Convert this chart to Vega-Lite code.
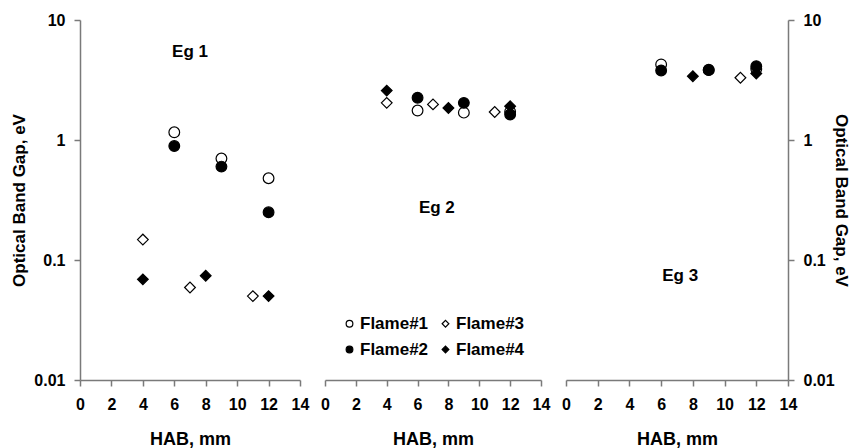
{
  "$schema": "https://vega.github.io/schema/vega-lite/v6.json",
  "background": "white",
  "padding": {"left": 10, "top": 12, "right": 0, "bottom": 0},
  "spacing": 25,
  "bounds": "flush",
  "datasets": {
    "points": [
      {"panel": 1, "hab": 6, "eg": 1.16, "flame": "Flame#1"},
      {"panel": 1, "hab": 9, "eg": 0.70, "flame": "Flame#1"},
      {"panel": 1, "hab": 12, "eg": 0.48, "flame": "Flame#1"},
      {"panel": 1, "hab": 6, "eg": 0.89, "flame": "Flame#2"},
      {"panel": 1, "hab": 9, "eg": 0.60, "flame": "Flame#2"},
      {"panel": 1, "hab": 12, "eg": 0.25, "flame": "Flame#2"},
      {"panel": 1, "hab": 4, "eg": 0.148, "flame": "Flame#3"},
      {"panel": 1, "hab": 7, "eg": 0.059, "flame": "Flame#3"},
      {"panel": 1, "hab": 11, "eg": 0.05, "flame": "Flame#3"},
      {"panel": 1, "hab": 4, "eg": 0.069, "flame": "Flame#4"},
      {"panel": 1, "hab": 8, "eg": 0.074, "flame": "Flame#4"},
      {"panel": 1, "hab": 12, "eg": 0.05, "flame": "Flame#4"},
      {"panel": 2, "hab": 6, "eg": 1.76, "flame": "Flame#1"},
      {"panel": 2, "hab": 9, "eg": 1.69, "flame": "Flame#1"},
      {"panel": 2, "hab": 12, "eg": 1.72, "flame": "Flame#1"},
      {"panel": 2, "hab": 6, "eg": 2.25, "flame": "Flame#2"},
      {"panel": 2, "hab": 9, "eg": 2.04, "flame": "Flame#2"},
      {"panel": 2, "hab": 12, "eg": 1.63, "flame": "Flame#2"},
      {"panel": 2, "hab": 4, "eg": 2.04, "flame": "Flame#3"},
      {"panel": 2, "hab": 7, "eg": 1.98, "flame": "Flame#3"},
      {"panel": 2, "hab": 11, "eg": 1.71, "flame": "Flame#3"},
      {"panel": 2, "hab": 4, "eg": 2.58, "flame": "Flame#4"},
      {"panel": 2, "hab": 8, "eg": 1.85, "flame": "Flame#4"},
      {"panel": 2, "hab": 12, "eg": 1.91, "flame": "Flame#4"},
      {"panel": 3, "hab": 6, "eg": 4.26, "flame": "Flame#1"},
      {"panel": 3, "hab": 9, "eg": 3.85, "flame": "Flame#1"},
      {"panel": 3, "hab": 12, "eg": 3.9, "flame": "Flame#1"},
      {"panel": 3, "hab": 6, "eg": 3.80, "flame": "Flame#2"},
      {"panel": 3, "hab": 9, "eg": 3.82, "flame": "Flame#2"},
      {"panel": 3, "hab": 12, "eg": 4.12, "flame": "Flame#2"},
      {"panel": 3, "hab": 11, "eg": 3.30, "flame": "Flame#3"},
      {"panel": 3, "hab": 8, "eg": 3.40, "flame": "Flame#4"},
      {"panel": 3, "hab": 12, "eg": 3.58, "flame": "Flame#4"}
    ],
    "labels": [
      {"panel": 1, "hab": 7, "eg": 5.4, "label": "Eg 1"},
      {"panel": 2, "hab": 7.25, "eg": 0.27, "label": "Eg 2"},
      {"panel": 3, "hab": 7.2, "eg": 0.074, "label": "Eg 3"}
    ]
  },
  "config": {
    "view": {"stroke": null},
    "font": "Liberation Sans",
    "axis": {
      "grid": false,
      "domainColor": "#7a7a7a",
      "domainWidth": 1.5,
      "tickColor": "#7a7a7a",
      "tickWidth": 1.5,
      "tickSize": 6,
      "labelFont": "Liberation Sans",
      "labelFontWeight": "bold",
      "labelFontSize": 16,
      "labelColor": "black",
      "labelFlush": false,
      "labelOverlap": false,
      "labelPadding": 9,
      "titleFont": "Liberation Sans",
      "titleFontWeight": "bold",
      "titleFontSize": 18,
      "titleColor": "black"
    },
    "legend": {
      "labelFont": "Liberation Sans",
      "labelFontWeight": "bold",
      "labelFontSize": 17,
      "labelColor": "black",
      "symbolSize": 45,
      "symbolStrokeWidth": 1.2,
      "columnPadding": 8,
      "rowPadding": 8,
      "labelOffset": 2
    }
  },
  "hconcat": [
    {
      "width": 220,
      "height": 360,
      "layer": [
        {
          "data": {"name": "points"},
          "transform": [{"filter": "datum.panel == 1"}],
          "mark": {"type": "point", "filled": true, "strokeWidth": 1.2, "opacity": 1, "size": 115},
          "encoding": {
            "x": {"field": "hab", "type": "quantitative", "scale": {"domain": [0, 14], "nice": false},
                  "axis": {"values": [0, 2, 4, 6, 8, 10, 12, 14], "tickCount": 8, "labelOverlap": false, "title": "HAB, mm", "titlePadding": 18, "labelPadding": 10}},
            "y": {"field": "eg", "type": "quantitative", "scale": {"type": "log", "domain": [0.01, 10], "nice": false},
                  "axis": {"orient": "left", "values": [0.01, 0.1, 1, 10], "tickCount": 4, "labelExpr": "datum.value + ''", "title": "Optical Band Gap, eV", "titleFontSize": 17, "titlePadding": 5, "labelPadding": 9}},
            "shape": {"field": "flame", "type": "nominal", "scale": {"domain": ["Flame#1", "Flame#2", "Flame#3", "Flame#4"], "range": ["circle", "circle", "diamond", "diamond"]},
                      "legend": {"title": null, "columns": 2, "orient": "none", "legendX": 261, "legendY": 295}},
            "fill": {"field": "flame", "type": "nominal", "scale": {"domain": ["Flame#1", "Flame#2", "Flame#3", "Flame#4"], "range": ["white", "black", "white", "black"]},
                     "legend": {"title": null, "columns": 2, "orient": "none", "legendX": 261, "legendY": 295}},
            "stroke": {"field": "flame", "type": "nominal", "scale": {"domain": ["Flame#1", "Flame#2", "Flame#3", "Flame#4"], "range": ["black", "black", "black", "black"]},
                       "legend": {"title": null, "columns": 2, "orient": "none", "legendX": 261, "legendY": 295}}
          }
        },
        {
          "data": {"name": "labels"},
          "transform": [{"filter": "datum.panel == 1"}],
          "mark": {"type": "text", "fontWeight": "bold", "fontSize": 17, "font": "Liberation Sans", "color": "black"},
          "encoding": {
            "x": {"field": "hab", "type": "quantitative"},
            "y": {"field": "eg", "type": "quantitative"},
            "text": {"field": "label"}
          }
        }
      ]
    },
    {
      "width": 216,
      "height": 360,
      "layer": [
        {
          "data": {"name": "points"},
          "transform": [{"filter": "datum.panel == 2"}],
          "mark": {"type": "point", "filled": true, "strokeWidth": 1.2, "opacity": 1, "size": 115},
          "encoding": {
            "x": {"field": "hab", "type": "quantitative", "scale": {"domain": [0, 14], "nice": false},
                  "axis": {"values": [0, 2, 4, 6, 8, 10, 12, 14], "tickCount": 8, "labelOverlap": false, "title": "HAB, mm", "titlePadding": 18, "labelPadding": 10}},
            "y": {"field": "eg", "type": "quantitative", "scale": {"type": "log", "domain": [0.01, 10], "nice": false}, "axis": null},
            "shape": {"field": "flame", "type": "nominal"},
            "fill": {"field": "flame", "type": "nominal"},
            "stroke": {"field": "flame", "type": "nominal"}
          }
        },
        {
          "data": {"name": "labels"},
          "transform": [{"filter": "datum.panel == 2"}],
          "mark": {"type": "text", "fontWeight": "bold", "fontSize": 17, "font": "Liberation Sans", "color": "black"},
          "encoding": {
            "x": {"field": "hab", "type": "quantitative"},
            "y": {"field": "eg", "type": "quantitative"},
            "text": {"field": "label"}
          }
        }
      ]
    },
    {
      "width": 222,
      "height": 360,
      "layer": [
        {
          "data": {"name": "points"},
          "transform": [{"filter": "datum.panel == 3"}],
          "mark": {"type": "point", "filled": true, "strokeWidth": 1.2, "opacity": 1, "size": 115},
          "encoding": {
            "x": {"field": "hab", "type": "quantitative", "scale": {"domain": [0, 14], "nice": false},
                  "axis": {"values": [0, 2, 4, 6, 8, 10, 12, 14], "tickCount": 8, "labelOverlap": false, "title": "HAB, mm", "titlePadding": 18, "labelPadding": 10}},
            "y": {"field": "eg", "type": "quantitative", "scale": {"type": "log", "domain": [0.01, 10], "nice": false},
                  "axis": {"orient": "right", "values": [0.01, 0.1, 1, 10], "tickCount": 4, "labelExpr": "datum.value + ''", "title": "Optical Band Gap, eV", "titleFontSize": 17, "titlePadding": -3, "labelPadding": 9}},
            "shape": {"field": "flame", "type": "nominal"},
            "fill": {"field": "flame", "type": "nominal"},
            "stroke": {"field": "flame", "type": "nominal"}
          }
        },
        {
          "data": {"name": "labels"},
          "transform": [{"filter": "datum.panel == 3"}],
          "mark": {"type": "text", "fontWeight": "bold", "fontSize": 17, "font": "Liberation Sans", "color": "black"},
          "encoding": {
            "x": {"field": "hab", "type": "quantitative"},
            "y": {"field": "eg", "type": "quantitative"},
            "text": {"field": "label"}
          }
        }
      ]
    }
  ]
}
